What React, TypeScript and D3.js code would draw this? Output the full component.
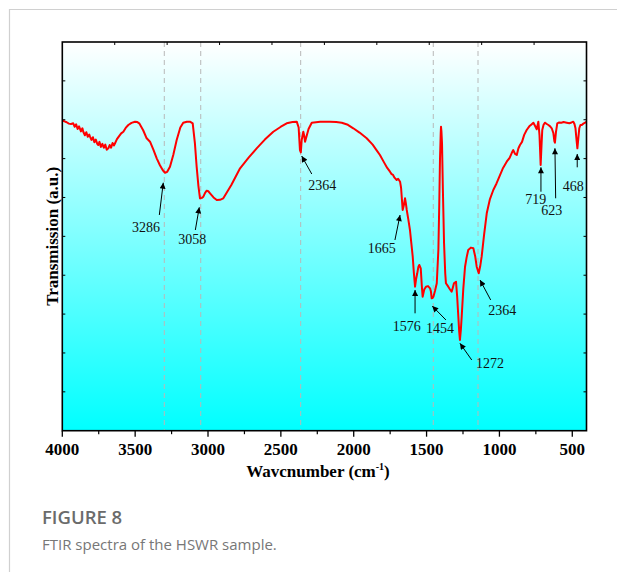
import React from 'react';
import * as d3 from 'd3';

// FTIR spectrum: wavenumber (cm-1) and transmission (a.u., 0-100)
const wavenumbers = [
  4000, 3985, 3970, 3955, 3940, 3925, 3915, 3905, 3895, 3885, 3872, 3862, 3856, 3845, 3835, 3825,
  3815, 3810, 3800, 3790, 3780, 3770, 3760, 3753, 3745, 3735, 3725, 3715, 3705, 3695, 3684, 3675,
  3665, 3655, 3645, 3638, 3625, 3610, 3596, 3581, 3565, 3547, 3525, 3501, 3485, 3472, 3445, 3421,
  3398, 3375, 3352, 3330, 3310, 3295, 3280, 3261, 3238, 3215, 3190, 3170, 3145, 3124, 3105, 3090,
  3078, 3066, 3055, 3042, 3032, 3020, 3009, 2998, 2986, 2962, 2940, 2918, 2895, 2840, 2780, 2720,
  2666, 2610, 2552, 2500, 2460, 2420, 2391, 2378, 2369, 2363, 2357, 2346, 2340, 2334, 2310, 2288,
  2230, 2163, 2120, 2082, 2040, 2003, 1960, 1911, 1870, 1840, 1820, 1790, 1770, 1751, 1740, 1730,
  1720, 1705, 1695, 1682, 1675, 1664, 1656, 1648, 1642, 1636, 1625, 1614, 1605, 1595, 1587, 1579,
  1572, 1564, 1556, 1550, 1545, 1540, 1533, 1527, 1516, 1504, 1490, 1476, 1470, 1465, 1458, 1453,
  1442, 1430, 1419, 1413, 1408, 1403, 1401, 1398, 1394, 1388, 1380, 1372, 1367, 1351, 1340, 1328,
  1320, 1312, 1298, 1290, 1282, 1276, 1271, 1265, 1259, 1248, 1236, 1225, 1214, 1196, 1179, 1166,
  1156, 1142, 1132, 1122, 1105, 1087, 1065, 1042, 1020, 996, 975, 950, 930, 915, 905, 893, 881,
  870, 859, 845, 830, 813, 795, 780, 767, 755, 744, 738, 733, 725, 717, 711, 706, 697, 687, 675,
  664, 652, 641, 630, 623, 619, 612, 603, 590, 575, 560, 538, 520, 505, 493, 485, 478, 470, 465,
  459, 452, 444, 435, 424, 412, 403,
];
const transmission = [
  79.75, 79.6, 79.35, 79.0, 78.9, 79.08, 78.2, 78.8, 77.6, 78.3, 77.0, 77.8, 76.9, 76.0, 76.8, 75.6,
  76.2, 75.64, 74.8, 75.5, 74.2, 74.9, 73.8, 73.5, 74.3, 73.0, 73.8, 72.8, 73.6, 72.3, 72.65, 73.5,
  72.8, 74.0, 73.4, 73.94, 75.0, 75.8, 76.5, 76.92, 77.9, 78.65, 79.2, 79.5, 79.4, 79.08, 77.3, 75.23,
  74.35, 72.3, 70.08, 68.3, 67.0, 66.37, 66.6, 67.92, 71.0, 74.79, 78.0, 79.24, 79.5, 79.5, 79.08, 74.0,
  67.92, 63.0, 59.79, 59.9, 60.2, 61.2, 61.74, 61.6, 61.07, 60.0, 59.35, 59.4, 59.79, 63.2, 67.5, 70.3,
  72.65, 74.9, 76.92, 78.2, 79.08, 79.4, 79.5, 78.0, 72.2, 71.6, 74.79, 76.92, 75.9, 74.35, 77.6, 79.24,
  79.5, 79.5, 79.4, 79.24, 78.7, 77.8, 76.7, 75.23, 73.6, 72.0, 70.93, 68.9, 67.6, 66.63, 66.0, 65.8,
  65.1, 64.5, 64.8, 64.06, 62.5, 56.78, 58.0, 59.79, 58.5, 56.78, 54.3, 51.63, 48.4, 44.76, 40.5, 37.05,
  39.0, 40.49, 42.2, 42.63, 42.2, 41.78, 37.5, 34.47, 36.3, 37.05, 37.2, 36.63, 35.8, 34.06, 34.2, 34.47,
  36.0, 37.92, 46.49, 58.0, 69.64, 76.5, 78.21, 77.0, 73.94, 62.0, 48.21, 40.5, 37.92, 37.05, 36.4, 35.76,
  36.8, 37.92, 38.33, 34.5, 29.33, 25.5, 23.33, 25.8, 29.33, 36.5, 42.19, 44.6, 46.49, 47.1, 46.93, 44.8,
  42.19, 40.49, 42.3, 44.76, 50.5, 55.93, 59.6, 61.92, 63.6, 65.78, 67.6, 69.2, 70.2, 71.5, 72.2, 71.2, 70.93,
  72.6, 73.5, 74.3, 76.1, 77.36, 78.3, 78.8, 79.24, 78.4, 77.54, 78.6, 79.5, 76.0, 68.36, 73.5, 77.36, 78.7, 79.24, 78.9,
  78.65, 78.3, 77.8, 76.6, 74.5, 74.09, 76.8, 79.08, 79.3, 79.24, 79.4, 79.24, 79.1, 79.3, 79.5, 78.9, 77.8, 74.5, 72.65,
  75.0, 77.8, 78.65, 78.65, 79.0, 79.24, 79.5,
];

const xTickValues = [4000, 3500, 3000, 2500, 2000, 1500, 1000, 500];
const xMinorValues = [3750, 3250, 2750, 2250, 1750, 1250, 750];
const dashedLines = [3300, 3050, 2364, 1454, 1147];

// Peak annotations: label, arrow tip, arrow tail, label anchor (all in data units)
const annLabels = ['3286', '3058', '2364', '1665', '1576', '1454', '1272', '2364', '719', '623', '468'];
const annTipW = [3307, 3060, 2357, 1682, 1579, 1461, 1271, 1133, 715, 619, 466];
const annTipV = [63.8, 57.47, 70.67, 55.49, 36.2, 32.08, 22.49, 38.77, 67.76, 72.65, 71.19];
const annTailW = [3334, 3087, 2288, 1717, 1579, 1367, 1190, 1060, 715, 614, 466];
const annTailV = [55.5, 51.63, 66.04, 49.06, 30.2, 28.48, 18.19, 33.63, 61.49, 59.79, 67.76];
const annTextW = [3426, 3108, 2216, 1808, 1636, 1408, 1065, 980, 751, 641, 493];
const annTextV = [51.14, 47.95, 61.92, 45.64, 25.73, 25.21, 16.05, 29.77, 58.25, 55.49, 61.74];

export default function App() {
  const W = 617;
  const H = 574;
  const L = 62.3, R = 586.5, T = 42, B = 430.7;
  const x = d3.scaleLinear().domain([4000, 402.4]).range([L, R]);
  const y = d3.scaleLinear().domain([0, 100]).range([B, T]);
  const frac = d3.range(1, 10).map((i) => i / 10);

  const pathD = d3
    .line<number>()
    .x((_, i) => x(wavenumbers[i]))
    .y((d) => y(d))
    .curve(d3.curveLinear)(transmission) as string;

  const serif = '"Liberation Serif", "Times New Roman", serif';

  return (
    <svg width={W} height={H} style={{ position: 'absolute', left: 0, top: 0, background: '#fff' }}>
      <defs>
        <linearGradient id="bg" x1="0" y1="0" x2="0" y2="1">
          <stop offset="0" stopColor="#ffffff" />
          <stop offset="1" stopColor="#00ffff" />
        </linearGradient>
        <marker id="arr" viewBox="0 0 10 10" refX="10" refY="5" markerWidth="7" markerHeight="6"
          markerUnits="userSpaceOnUse" orient="auto">
          <path d="M0,0 L10,5 L0,10 Z" fill="#000" />
        </marker>
        <clipPath id="clip">
          <rect x={L} y={T} width={R - L} height={B - T} />
        </clipPath>
      </defs>

      {/* card border */}
      <line x1={9} y1={9.5} x2={617} y2={9.5} stroke="#d0d0d0" strokeWidth={1.2} />
      <line x1={9.5} y1={9} x2={9.5} y2={572} stroke="#d0d0d0" strokeWidth={1.2} />

      <rect x={L} y={T} width={R - L} height={B - T} fill="url(#bg)" />

      {dashedLines.map((w, i) => (
        <line key={'d' + i} x1={x(w)} x2={x(w)} y1={T} y2={B} stroke="#b8b8b8" strokeWidth={1}
          strokeDasharray="5,4" />
      ))}

      <path d={pathD} fill="none" stroke="#ff0000" strokeWidth={2} strokeLinejoin="round"
        clipPath="url(#clip)" />

      {/* annotations */}
      {annLabels.map((lab, i) => (
        <g key={'a' + i}>
          <line x1={x(annTailW[i])} y1={y(annTailV[i])} x2={x(annTipW[i])} y2={y(annTipV[i])}
            stroke="#000" strokeWidth={1} markerEnd="url(#arr)" />
          <text x={x(annTextW[i])} y={y(annTextV[i])} textAnchor="middle" fontFamily={serif}
            fontSize={14} fill="#111">{lab}</text>
        </g>
      ))}

      {/* ticks: top and sides (inward, equal divisions) */}
      {frac.map((f, i) => (
        <g key={'t' + i} stroke="#000" strokeWidth={1}>
          <line x1={L + f * (R - L)} x2={L + f * (R - L)} y1={T} y2={T + 3} />
          <line x1={L} x2={L + 3} y1={T + f * (B - T)} y2={T + f * (B - T)} />
          <line x1={R} x2={R - 3} y1={T + f * (B - T)} y2={T + f * (B - T)} />
        </g>
      ))}

      {/* bottom axis ticks */}
      {xTickValues.map((v) => (
        <g key={'x' + v}>
          <line x1={x(v)} x2={x(v)} y1={B} y2={B + 6} stroke="#000" strokeWidth={1.3} />
          <text x={x(v)} y={455} textAnchor="middle" fontFamily={serif} fontWeight="bold"
            fontSize={17}>{v}</text>
        </g>
      ))}
      {xMinorValues.map((v) => (
        <line key={'m' + v} x1={x(v)} x2={x(v)} y1={B} y2={B + 3.5} stroke="#000" strokeWidth={1.2} />
      ))}

      {/* frame */}
      <rect x={L} y={T} width={R - L} height={B - T} fill="none" stroke="#000" strokeWidth={1.6} />

      {/* axis titles */}
      <text x={318} y={477} textAnchor="middle" fontFamily={serif} fontWeight="bold" fontSize={17}>
        Wavcnumber (cm<tspan dy={-7} fontSize={10}>-1</tspan><tspan dy={7}>)</tspan>
      </text>
      <text transform={`translate(58, ${(T + B) / 2}) rotate(-90)`} textAnchor="middle"
        fontFamily={serif} fontWeight="bold" fontSize={17}>Transmission (a.u.)</text>

      {/* caption */}
      <text x={42} y={524} fontFamily='"Open Sans", "Noto Sans", sans-serif' fontWeight={600}
        fontSize={18.5} fill="#6b6b6b">FIGURE 8</text>
      <text x={42} y={550} fontFamily='"Open Sans", "Noto Sans", sans-serif' fontSize={15}
        fill="#777">FTIR spectra of the HSWR sample.</text>
    </svg>
  );
}
